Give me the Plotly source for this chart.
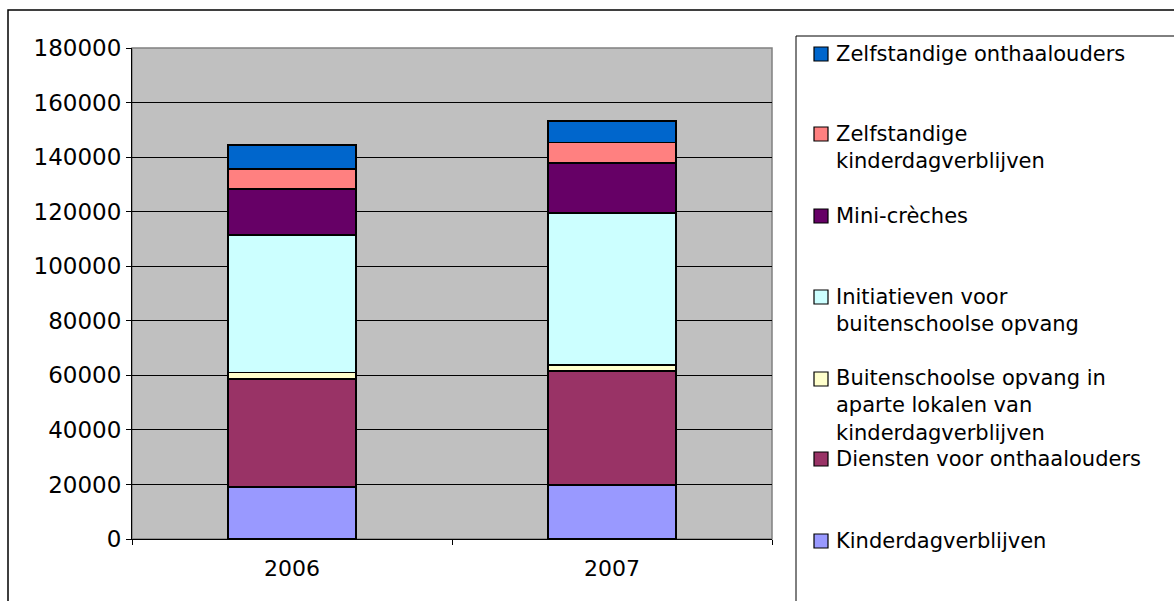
import plotly.graph_objects as go

years = ["2006", "2007"]
series_names = [
    "Kinderdagverblijven",
    "Diensten voor onthaalouders",
    "Buitenschoolse opvang in aparte lokalen van kinderdagverblijven",
    "Initiatieven voor buitenschoolse opvang",
    "Mini-crèches",
    "Zelfstandige kinderdagverblijven",
    "Zelfstandige onthaalouders",
]
kinderdagverblijven = [19000, 19700]
diensten_onthaalouders = [39700, 41900]
buitenschoolse_aparte = [2300, 2300]
initiatieven_bso = [50500, 55700]
mini_creches = [16900, 18300]
zelfstandige_kdv = [7200, 7400]
zelfstandige_onthaalouders = [8900, 8000]
series_values = [
    kinderdagverblijven, diensten_onthaalouders, buitenschoolse_aparte,
    initiatieven_bso, mini_creches, zelfstandige_kdv, zelfstandige_onthaalouders,
]
colors = ["#9999FF", "#993366", "#FFFFCC", "#CCFFFF", "#660066", "#FF8080", "#0066CC"]

# legend labels (wrapped as in the reference), top to bottom
legend_labels = [
    "Zelfstandige onthaalouders",
    "Zelfstandige<br>kinderdagverblijven",
    "Mini-crèches",
    "Initiatieven voor<br>buitenschoolse opvang",
    "Buitenschoolse opvang in<br>aparte lokalen van<br>kinderdagverblijven",
    "Diensten voor onthaalouders",
    "Kinderdagverblijven",
]
legend_line_y = [54, 134, 216, 297, 379, 459, 541]

W, H = 1174, 601
L, R, T, B = 132, 772, 48, 539
FONT = "DejaVu Sans"

def px(x):
    return (x - L) / (R - L)

def py(y):
    return (B - y) / (B - T)

fig = go.Figure()
for name, vals, col in zip(series_names, series_values, colors):
    fig.add_trace(go.Bar(
        x=years, y=vals, name=name,
        marker=dict(color=col, line=dict(color="black", width=1.6)),
        showlegend=False,
    ))

shapes = []
annotations = []
# outer chart border
shapes.append(dict(type="rect", xref="paper", yref="paper",
                   x0=px(8), x1=px(1190), y0=py(620), y1=py(10),
                   line=dict(color="black", width=1.5), layer="below"))
# legend box
shapes.append(dict(type="rect", xref="paper", yref="paper",
                   x0=px(796), x1=px(1190), y0=py(620), y1=py(36),
                   line=dict(color="black", width=1)))
# plot area grey border (top/right)
shapes.append(dict(type="rect", xref="paper", yref="paper",
                   x0=0, x1=1, y0=0, y1=1,
                   line=dict(color="#808080", width=1.5), layer="below"))

for lab, yc, col in zip(legend_labels, legend_line_y, reversed(colors)):
    shapes.append(dict(type="rect", xref="paper", yref="paper",
                       x0=px(814), x1=px(828), y0=py(yc + 7), y1=py(yc - 7),
                       fillcolor=col, line=dict(color="black", width=1.2)))
    nlines = lab.count("<br>") + 1
    annotations.append(dict(
        xref="paper", yref="paper", x=px(834), y=py(yc + (nlines - 1) * 13),
        xanchor="left", yanchor="middle", align="left", showarrow=False,
        text=lab, font=dict(family=FONT, size=21, color="black"),
    ))

fig.update_layout(
    width=W, height=H,
    margin=dict(l=L, r=W - R, t=T, b=H - B, pad=0),
    barmode="stack", bargap=0.6,
    paper_bgcolor="white", plot_bgcolor="#C0C0C0",
    font=dict(family=FONT, size=21, color="black"),
    shapes=shapes, annotations=annotations,
    showlegend=False,
)
fig.update_yaxes(
    range=[0, 180000], dtick=20000, tickformat="d",
    showgrid=True, gridcolor="black", gridwidth=1,
    showline=True, linecolor="black", linewidth=1,
    ticks="outside", ticklen=5, tickcolor="black",
    tickfont=dict(family=FONT, size=23), zeroline=False,
)
fig.update_xaxes(
    showline=True, linecolor="black", linewidth=1,
    ticks="outside", ticklen=5, tickcolor="black", tickson="boundaries",
    tickfont=dict(family=FONT, size=22), ticklabelstandoff=10,
)

fig.write_html("out.html", config={"displayModeBar": False},
               post_script="document.body.style.margin='0';document.body.style.overflow='hidden';")
